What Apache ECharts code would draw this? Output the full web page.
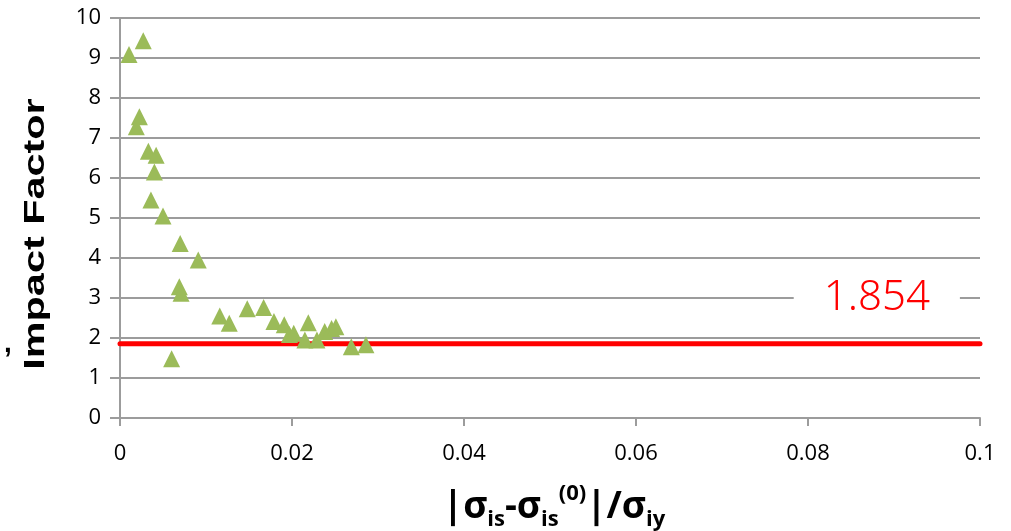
<!DOCTYPE html>
<html>
<head>
<meta charset="utf-8">
<script src="https://cdn.jsdelivr.net/npm/echarts@6/dist/echarts.min.js"></script>
<style>
  html, body { margin: 0; padding: 0; background: #fff; }
  #chart { width: 1011px; height: 531px; }
</style>
</head>
<body>
<div id="chart"></div>
<script>
// Normalised stress deviation (x) against impact factor (y)
const stressDev = [
  0.00105, 0.0027, 0.00225, 0.0019, 0.0033, 0.0042, 0.0040, 0.0036, 0.0050,
  0.0070, 0.0091, 0.0069, 0.0071, 0.0060,
  0.0116, 0.0127, 0.0148, 0.0167, 0.0179, 0.0191, 0.0197, 0.0202,
  0.0219, 0.0215, 0.0229, 0.0238, 0.0246, 0.0251, 0.0269, 0.0286
];
const impactFactor = [
  9.09, 9.43, 7.53, 7.28, 6.67, 6.57, 6.15, 5.45, 5.05,
  4.36, 3.95, 3.28, 3.12, 1.48,
  2.55, 2.37, 2.73, 2.76, 2.41, 2.33, 2.09, 2.12,
  2.38, 1.95, 1.95, 2.16, 2.24, 2.28, 1.78, 1.83
];
// Design limit drawn as a horizontal line across the full x range
const limitValue = 1.854;
const limitSpan = [0, 0.1];
// Where the limit's value label sits (x, y in data units)
const limitLabelAt = [0.0880, 3.0];

const xTickLabels = ['0', '0.02', '0.04', '0.06', '0.08', '0.1'];
const yTickLabels = ['0', '1', '2', '3', '4', '5', '6', '7', '8', '9', '10'];

const points = stressDev.map((x, i) => [x, impactFactor[i]]);
const limitLine = limitSpan.map(x => [x, limitValue]);

const GRID_GREY = '#9c9c9c';
const TICK_FONT = 'Open Sans';

const chart = echarts.init(document.getElementById('chart'), null, { renderer: 'canvas' });

chart.setOption({
  animation: false,
  backgroundColor: '#ffffff',
  grid: { left: 120, right: 31, top: 18, bottom: 113, containLabel: false },
  xAxis: {
    type: 'value',
    min: 0, max: 0.1, interval: 0.02,
    axisLine: { show: true, lineStyle: { color: GRID_GREY, width: 2 } },
    axisTick: { show: true, inside: false, length: 8, lineStyle: { color: GRID_GREY, width: 2 } },
    splitLine: { show: false },
    axisLabel: {
      color: '#000', fontFamily: TICK_FONT, fontSize: 22, margin: 25,
      formatter: v => xTickLabels[Math.round(v / 0.02)]
    }
  },
  yAxis: {
    type: 'value',
    min: 0, max: 10, interval: 1,
    axisLine: { show: true, lineStyle: { color: GRID_GREY, width: 2 } },
    axisTick: { show: true, inside: false, length: 10, lineStyle: { color: GRID_GREY, width: 2 } },
    splitLine: { show: true, lineStyle: { color: GRID_GREY, width: 2 } },
    axisLabel: {
      color: '#000', fontFamily: TICK_FONT, fontSize: 22, margin: 19,
      formatter: v => yTickLabels[Math.round(v)]
    }
  },
  series: [
    {
      type: 'line',
      data: limitLine,
      symbol: 'none',
      z: 3,
      lineStyle: { color: '#ff0000', width: 5, cap: 'round' },
      markPoint: {
        symbol: 'rect',
        symbolSize: 0,
        data: [{ coord: limitLabelAt }],
        label: {
          show: true,
          position: 'inside',
          formatter: () => limitValue.toFixed(3),
          color: '#ff0000',
          fontFamily: 'Noto Sans',
          fontWeight: 300,
          fontSize: 42,
          backgroundColor: '#ffffff',
          padding: [4, 30, 4, 30]
        }
      }
    },
    {
      type: 'scatter',
      data: points,
      symbol: 'triangle',
      symbolSize: 17,
      z: 5,
      itemStyle: { color: '#9bbb59', opacity: 1 }
    }
  ],
  graphic: [
    {
      type: 'text',
      x: 36, y: 234,
      rotation: Math.PI / 2,
      scaleX: 1.38,
      style: {
        text: 'Impact Factor',
        fontFamily: 'Liberation Sans',
        fontWeight: 'bold',
        fontSize: 30,
        fill: '#000',
        align: 'center',
        verticalAlign: 'middle'
      }
    },
    {
      type: 'text',
      x: 4, y: 344,
      style: {
        text: ',',
        fontFamily: 'Liberation Sans',
        fontWeight: 'bold',
        fontSize: 28,
        fill: '#000',
        align: 'left',
        verticalAlign: 'middle'
      }
    },
    {
      type: 'text',
      x: 554, y: 507,
      style: {
        text: '{b||σ}{s|is}{b|-σ}{s|is}{p|(0)}{b||/σ}{s|iy}',
        align: 'center',
        verticalAlign: 'middle',
        fill: '#000',
        rich: {
          b: { fontFamily: 'Open Sans', fontWeight: 'bold', fontSize: 37, lineHeight: 48, verticalAlign: 'middle', fill: '#000' },
          s: { fontFamily: 'Open Sans', fontWeight: 'bold', fontSize: 22, lineHeight: 18, verticalAlign: 'bottom', fill: '#000' },
          p: { fontFamily: 'Open Sans', fontWeight: 'bold', fontSize: 22, lineHeight: 22, verticalAlign: 'top', fill: '#000' }
        }
      }
    }
  ]
});
</script>
</body>
</html>
